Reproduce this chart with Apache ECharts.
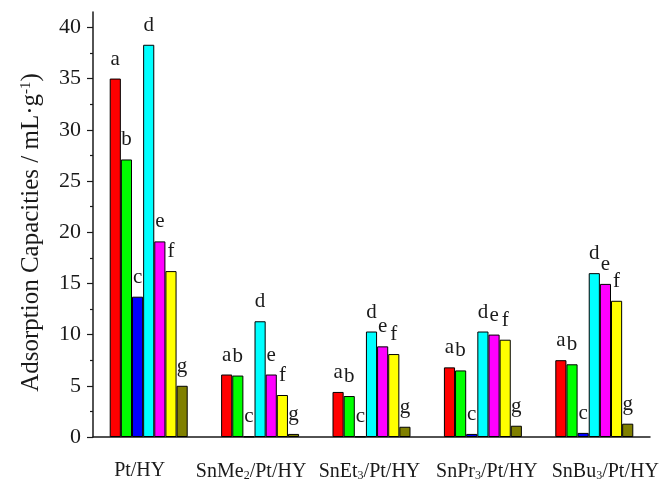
<!DOCTYPE html>
<html>
<head>
<meta charset="utf-8">
<script src="https://cdn.jsdelivr.net/npm/echarts@6/dist/echarts.min.js"></script>
<style>
  html, body { margin: 0; padding: 0; background: #ffffff; }
  #chart { width: 661px; height: 480px; }
</style>
</head>
<body>
<div id="chart"></div>
<script>
// Catalyst samples along the x axis
const catalysts = ['Pt/HY', 'SnMe2/Pt/HY', 'SnEt3/Pt/HY', 'SnPr3/Pt/HY', 'SnBu3/Pt/HY'];

// Adsorption capacity (mL/g) for each probe, one array per bar series
const seriesNames = ['a', 'b', 'c', 'd', 'e', 'f', 'g'];
const valuesA = [35.0, 6.1, 4.4, 6.8, 7.5];
const valuesB = [27.1, 6.0, 4.0, 6.5, 7.1];
const valuesC = [13.7, 0.05, 0.05, 0.3, 0.4];
const valuesD = [38.3, 11.3, 10.3, 10.3, 16.0];
const valuesE = [19.1, 6.1, 8.85, 10.0, 14.95];
const valuesF = [16.2, 4.1, 8.1, 9.5, 13.3];
const valuesG = [5.0, 0.3, 1.0, 1.1, 1.3];

// Y axis tick positions
const majorTicks = [0, 5, 10, 15, 20, 25, 30, 35, 40];
const minorTicks = [2.5, 7.5, 12.5, 17.5, 22.5, 27.5, 32.5, 37.5];

const barColors = ['#ff0000', '#00ff00', '#0000ff', '#00ffff', '#ff00ff', '#ffff00', '#808000'];
const allValues = [valuesA, valuesB, valuesC, valuesD, valuesE, valuesF, valuesG];

const serif = 'Liberation Serif, Times New Roman, serif';
const ink = '#1a1a1a';

// Category labels are nudged sideways a little (in px) from the band centres
const labelNudge = [-9, -9, -2, 4, 11];

// Spacer rich styles used to nudge text blocks
const spacerStyles = {};
for (let n = 1; n <= 30; n++) spacerStyles['w' + n] = { width: n, fontSize: 1 };

const chart = echarts.init(document.getElementById('chart'), null, { renderer: 'canvas' });

const series = seriesNames.map((name, i) => ({
  name: name,
  type: 'bar',
  yAxisIndex: 0,
  data: allValues[i],
  barGap: '0%',
  barCategoryGap: '30%',
  itemStyle: { color: barColors[i], borderColor: '#000000', borderWidth: 1 },
  label: {
    show: true,
    position: 'top',
    distance: 9,
    formatter: name,
    fontFamily: serif,
    fontSize: 21,
    color: ink
  }
}));

chart.setOption({
  animation: false,
  backgroundColor: '#ffffff',
  grid: { left: 93, right: 11, top: 12, bottom: 43, containLabel: false, outerBoundsMode: 'none' },
  xAxis: {
    type: 'category',
    data: catalysts,
    axisLine: { show: true, lineStyle: { color: ink, width: 1.5 } },
    axisTick: { show: false },
    axisLabel: {
      interval: 0,
      margin: 24,
      fontFamily: serif,
      fontSize: 20,
      color: ink,
      formatter: function (v, idx) {
        const body = '{m|' + v.replace(/(\d)/, '}{sub|$1}{m|') + '}';
        const s = labelNudge[idx] || 0;
        const w = Math.min(30, Math.abs(2 * s));
        if (s > 0) return '{w' + w + '| }' + body;
        if (s < 0) return body + '{w' + w + '| }';
        return body;
      },
      rich: Object.assign({
        m: { fontFamily: serif, fontSize: 20, color: ink },
        sub: { fontFamily: serif, fontSize: 12, color: ink, verticalAlign: 'bottom', padding: [9, 0, 0, 0] }
      }, spacerStyles)
    },
    splitLine: { show: false }
  },
  yAxis: [
    {
      type: 'value',
      min: 0,
      max: 41.5,
      interval: 5,
      position: 'left',
      name: '{t|Adsorption Capacities / mL·g}{sup|-1}{t|)}{w16| }',
      nameLocation: 'middle',
      nameGap: 49,
      nameRotate: 90,
      nameTextStyle: {
        rich: Object.assign({
          t: { fontFamily: serif, fontSize: 25, color: ink },
          sup: { fontFamily: serif, fontSize: 15, color: ink, verticalAlign: 'top', padding: [0, 0, 10, 0] }
        }, spacerStyles)
      },
      axisLine: { show: true, lineStyle: { color: ink, width: 1.5 } },
      axisTick: { show: true, inside: false, length: 6, customValues: majorTicks, lineStyle: { color: ink, width: 1.2 } },
      axisLabel: { margin: 12, fontFamily: serif, fontSize: 22, color: ink, customValues: majorTicks },
      splitLine: { show: false }
    },
    {
      type: 'value',
      min: 0,
      max: 41.5,
      interval: 5,
      position: 'left',
      offset: 0,
      axisLine: { show: false },
      axisTick: { show: true, inside: false, length: 3, customValues: minorTicks, lineStyle: { color: ink, width: 1.2 } },
      axisLabel: { show: false },
      splitLine: { show: false }
    }
  ],
  series: series
});
</script>
</body>
</html>
